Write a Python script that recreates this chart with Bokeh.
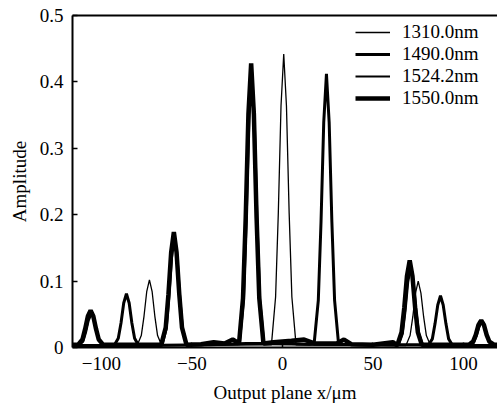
from bokeh.plotting import figure
from bokeh.models import Range1d, FixedTicker, Legend, LegendItem, LinearAxis
from bokeh.embed import file_html
from bokeh.resources import INLINE

# ---- data ----
labels = ["1310.0nm", "1490.0nm", "1524.2nm", "1550.0nm"]

x_1550 = [-116.5, -113, -110.5, -109, -107.5, -106, -104.5, -103, -101.5, -99,
          -90, -75,
          -67, -64.5, -63, -61.5, -60, -58.5, -57, -55.5, -53,
          -45, -38, -32, -27.5, -25,
          -24, -21.8, -20.3, -18.8, -17.3, -15.8, -14.3, -12.8, -10.5,
          -5, 5, 12, 18, 30, 34, 38, 50, 61, 63,
          63.5, 65.8, 67.3, 68.8, 70.3, 71.8, 73.3, 74.8, 77,
          90, 100,
          103, 105.3, 106.8, 108.3, 109.8, 111.3, 112.8, 114.3, 117, 119]
y_1550 = [0.004, 0.004, 0.012, 0.028, 0.047, 0.056, 0.047, 0.028, 0.012, 0.004,
          0.004, 0.004,
          0.004, 0.030, 0.080, 0.143, 0.174, 0.143, 0.080, 0.030, 0.004,
          0.005, 0.008, 0.006, 0.012, 0.008,
          0.006, 0.074, 0.196, 0.352, 0.428, 0.352, 0.196, 0.074, 0.006,
          0.008, 0.010, 0.012, 0.006, 0.006, 0.012, 0.005, 0.004, 0.008, 0.004,
          0.004, 0.023, 0.060, 0.108, 0.131, 0.108, 0.060, 0.023, 0.004,
          0.004, 0.004,
          0.004, 0.009, 0.019, 0.034, 0.041, 0.034, 0.019, 0.009, 0.004, 0.004]

x_1490 = [-116.5, -93, -90.7, -89.2, -87.7, -86.2, -84.7, -83.2, -81.7, -79.5,
          -40, -20, 5, 15,
          17.5, 19.8, 21.3, 22.8, 24.3, 25.8, 27.3, 28.8, 31,
          45, 75,
          80.5, 82.8, 84.3, 85.8, 87.3, 88.8, 90.3, 91.8, 94, 119]
y_1490 = [0.003, 0.003, 0.014, 0.037, 0.067, 0.081, 0.067, 0.037, 0.014, 0.003,
          0.004, 0.006, 0.006, 0.005,
          0.006, 0.071, 0.189, 0.339, 0.412, 0.339, 0.189, 0.071, 0.005,
          0.004, 0.004,
          0.003, 0.013, 0.036, 0.064, 0.078, 0.064, 0.036, 0.013, 0.003, 0.003]

x_1524 = [-116.5, -112.3, -110, -108.5, -107, -105.5, -104, -102.5, -101, -98.7,
          -66.3, -64, -62.5, -61, -59.5, -58, -56.5, -55, -52.7,
          -23.6, -21.3, -19.8, -18.3, -16.8, -15.3, -13.8, -12.3, -10,
          64.2, 66.5, 68, 69.5, 71, 72.5, 74, 75.5, 77.8,
          103.5, 105.8, 107.3, 108.8, 110.3, 111.8, 113.3, 114.8, 117, 119]
y_1524 = [0.003, 0.003, 0.009, 0.023, 0.041, 0.050, 0.041, 0.023, 0.009, 0.003,
          0.003, 0.028, 0.076, 0.136, 0.165, 0.136, 0.076, 0.028, 0.003,
          0.005, 0.071, 0.190, 0.342, 0.415, 0.342, 0.190, 0.071, 0.005,
          0.003, 0.021, 0.055, 0.099, 0.120, 0.099, 0.055, 0.021, 0.003,
          0.003, 0.007, 0.017, 0.031, 0.038, 0.031, 0.017, 0.007, 0.003, 0.003]

x_1310 = [-116.5, -80.3, -78, -76.5, -75, -73.5, -72, -70.5, -69, -66.7,
          -6.1, -3.8, -2.3, -0.8, 0.7, 2.2, 3.7, 5.2, 7.5,
          68.2, 70.5, 72, 73.5, 75, 76.5, 78, 79.5, 81.8, 119]
y_1310 = [0.003, 0.003, 0.018, 0.047, 0.084, 0.102, 0.084, 0.047, 0.018, 0.003,
          0.004, 0.076, 0.202, 0.364, 0.442, 0.364, 0.202, 0.076, 0.004,
          0.003, 0.018, 0.046, 0.082, 0.100, 0.082, 0.046, 0.018, 0.003, 0.003]

x_ticks = [-100, -50, 0, 50, 100]
y_ticks = [0, 0.1, 0.2, 0.3, 0.4, 0.5]
y_tick_labels = ["0", "0.1", "0.2", "0.3", "0.4", "0.5"]

FONT = "Liberation Serif"

p = figure(width=497, height=405, output_backend="svg", toolbar_location=None,
           x_range=Range1d(-116.0, 118.8), y_range=Range1d(0, 0.5),
           min_border_left=72, min_border_right=0, min_border_top=15,
           min_border_bottom=58)
p.grid.visible = False
p.outline_line_color = None
p.background_fill_color = "white"

r1550 = p.line(x_1550, y_1550, line_color="black", line_width=4.5)
r1490 = p.line(x_1490, y_1490, line_color="black", line_width=3)
r1524 = p.line(x_1524, y_1524, line_color="black", line_width=2)
r1310 = p.line(x_1310, y_1310, line_color="black", line_width=1.3)

xa = p.xaxis[0]
xa.ticker = FixedTicker(ticks=x_ticks)
xa.axis_label = "Output plane x/\u03bcm"
ya = p.yaxis[0]
ya.ticker = FixedTicker(ticks=y_ticks)
ya.major_label_overrides = {t: l for t, l in zip(y_ticks, y_tick_labels)}
ya.axis_label = "Amplitude"

for ax in (xa, ya):
    ax.axis_line_width = 2
    ax.axis_line_color = "black"
    ax.major_tick_in = 5
    ax.major_tick_out = 0
    ax.major_tick_line_width = 1.5
    ax.minor_tick_line_color = None
    ax.major_label_text_font = FONT
    ax.major_label_text_font_size = "19px"
    ax.major_label_text_color = "black"
    ax.axis_label_text_font = FONT
    ax.axis_label_text_font_size = "19px"
    ax.axis_label_text_font_style = "normal"
    ax.axis_label_text_color = "black"
xa.major_label_standoff = 9
xa.axis_label_standoff = 9
ya.major_label_standoff = 9
ya.axis_label_standoff = 7

top = LinearAxis(ticker=FixedTicker(ticks=[]), major_label_text_font_size="0px",
                 major_label_standoff=0,
                 axis_line_width=2, axis_line_color="black",
                 major_tick_line_color=None, minor_tick_line_color=None)
p.add_layout(top, "above")

legend = Legend(items=[LegendItem(label=l, renderers=[r]) for l, r in
                       zip(labels, [r1310, r1490, r1524, r1550])],
                location=(283, 238))
legend.background_fill_alpha = 0
legend.border_line_color = None
legend.label_text_font = FONT
legend.label_text_font_size = "19px"
legend.label_text_color = "black"
legend.glyph_width = 35
legend.glyph_height = 14
legend.label_height = 14
legend.spacing = 0
legend.label_standoff = 12
legend.padding = 0
legend.margin = 0
p.add_layout(legend)

open("out.html", "w").write(file_html(p, INLINE))
